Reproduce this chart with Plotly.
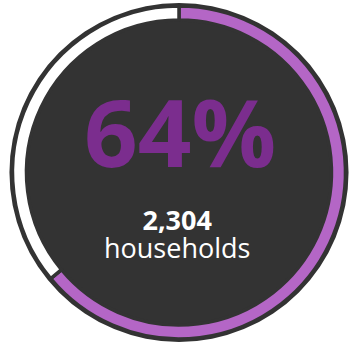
import plotly.graph_objects as go

W, H = 351, 346
labels = ["Share", "Remainder"]
values = [64, 36]
pct_label = "64%"
count_label = "2,304"
unit_label = "households"

DARK = "#333333"
PURPLE_RING = "#B466C6"
WHITE_RING = "#FFFFFF"
PURPLE_TEXT = "#7B2D8E"

cx, cy = 179, 172.5  # pixel center (from top)


def dom(r):
    cyb = H - cy
    return dict(x=[(cx - r) / W, (cx + r) / W], y=[(cyb - r) / H, (cyb + r) / H])


fig = go.Figure()
# dark disk background
fig.add_trace(go.Pie(values=[1], labels=["bg"], domain=dom(169.5), marker=dict(colors=[DARK], line=dict(width=0)),
                     textinfo="none", hoverinfo="skip", sort=False, showlegend=False))
# ring
r_out = 166.5
r_in = 152.5
fig.add_trace(go.Pie(values=values, labels=labels, domain=dom(r_out), hole=r_in / r_out,
                     marker=dict(colors=[PURPLE_RING, WHITE_RING], line=dict(color=DARK, width=3.5)),
                     direction="clockwise", rotation=0, sort=False, textinfo="none",
                     hoverinfo="label+value", showlegend=False))


def px(x):
    return x / W


def py(y):
    return 1 - y / H


fig.add_annotation(x=px(180), y=py(131), xref="paper", yref="paper", text=f"<b>{pct_label}</b>",
                   showarrow=False, font=dict(family="Open Sans", size=94, color=PURPLE_TEXT),
                   xanchor="center", yanchor="middle")
fig.add_annotation(x=px(177), y=py(233), xref="paper", yref="paper",
                   text=(f"<span style='font-size:27px'><b>{count_label}</b></span><br>"
                         f"<span style='font-size:27px'>{unit_label}</span>"),
                   showarrow=False, font=dict(family="Open Sans", size=21.5, color="#FFFFFF"),
                   xanchor="center", yanchor="middle", align="center")

fig.update_layout(width=W, height=H, margin=dict(l=0, r=0, t=0, b=0),
                  paper_bgcolor="#FFFFFF", plot_bgcolor="#FFFFFF", showlegend=False)
fig.write_html("out.html")
